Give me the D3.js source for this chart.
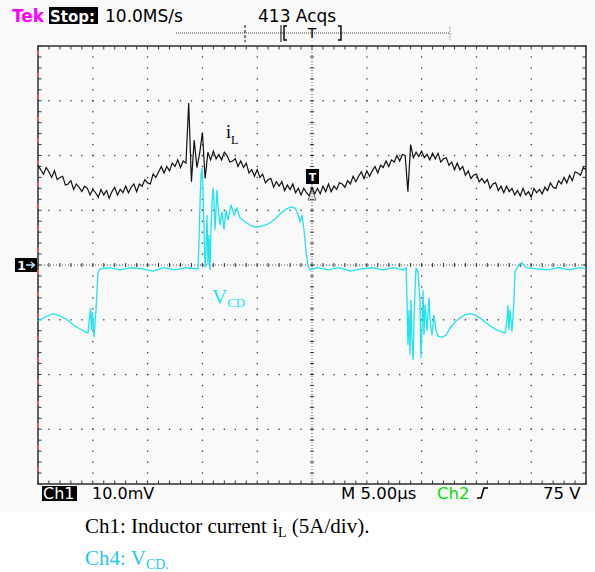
<!DOCTYPE html>
<html>
<head>
<meta charset="utf-8">
<script src="https://cdn.jsdelivr.net/npm/d3@7"></script>
<style>
  body { margin: 0; background: #fff; }
  svg { display: block; }
</style>
</head>
<body>
<script>
// time between samples of the Ch1 record, in microseconds
var sampleStep = 0.25;

// Ch1: inductor current iL in amps (5 A/div), one sample every sampleStep from 0 us
var ch1Amps = [
    9.1, 8.7, 8.3, 8.9, 8.5, 8.0, 8.6, 7.8,
    8.0, 8.1, 7.3, 7.4, 7.7, 6.9, 7.4, 7.1,
    6.7, 7.2, 7.0, 6.4, 6.9, 6.6, 6.2, 6.9,
    6.4, 6.8, 6.1, 6.7, 7.1, 6.4, 6.9, 6.6,
    7.2, 6.6, 7.1, 7.4, 6.7, 7.4, 7.2, 7.8,
    7.5, 7.4, 8.3, 8.0, 8.5, 9.0, 8.4, 9.0,
    8.6, 9.3, 9.0, 9.6, 8.9, 9.5, 9.3, 14.8,
    7.6, 11.4, 8.9, 10.2, 12.1, 7.9, 10.3, 9.6,
    10.4, 9.7, 10.1, 9.6, 10.3, 10.0, 9.4, 9.5,
    9.7, 9.0, 9.5, 8.9, 9.3, 8.4, 8.7, 8.1,
    8.7, 8.0, 8.3, 7.5, 7.8, 7.9, 7.1, 7.6,
    7.2, 7.6, 6.8, 7.3, 6.9, 7.4, 6.6, 7.0,
    6.4, 7.0, 6.6, 6.3, 7.1, 6.5, 7.0, 6.5,
    7.2, 6.7, 7.4, 6.7, 7.2, 6.9, 7.5, 7.4,
    7.1, 7.7, 7.4, 8.1, 7.6, 8.1, 8.5, 7.9,
    8.6, 8.1, 8.6, 9.0, 8.4, 9.1, 8.9, 9.5,
    9.0, 9.6, 9.4, 10.0, 9.5, 10.1, 10.0, 6.7,
    11.0, 9.8, 10.3, 9.9, 10.4, 9.8, 10.1, 9.6,
    10.2, 9.7, 10.2, 9.4, 9.7, 9.8, 9.1, 9.4,
    8.7, 9.3, 8.7, 9.0, 8.2, 8.6, 7.9, 8.2,
    8.3, 7.6, 7.9, 7.5, 7.8, 7.0, 7.4, 7.5,
    6.8, 7.2, 6.6, 7.2, 6.7, 7.0, 6.4, 6.8,
    6.3, 7.0, 6.4, 6.7, 6.2, 7.0, 6.6, 6.9,
    6.5, 7.1, 6.8, 7.5, 7.1, 7.0, 7.7, 7.4,
    8.0, 7.5, 8.2, 7.7, 8.5, 8.4, 8.2, 8.9,
    8.7
];

// Ch4: V_CD, as [time in us, screen divisions from the centre line]
var ch4Samples = [
    [0, -1.02], [0.64, -0.95], [1.37, -0.89], [2.0, -0.93], [2.65, -1.00], [3.28, -1.10],
    [3.83, -1.17], [4.29, -1.22], [4.56, -1.24], [4.70, -0.97], [4.79, -0.79], [4.88, -1.19],
    [4.97, -0.86], [5.11, -1.32], [5.29, -0.82], [5.47, -0.15], [5.66, -0.07],
    [6.5, -0.05], [7.5, -0.09], [8.5, -0.05], [9.5, -0.07], [10.5, -0.11], [11.5, -0.05],
    [12.5, -0.09], [13.5, -0.05], [14.6, -0.07],
    [14.69, 0.46], [14.78, 1.10], [14.87, 1.64], [14.96, 1.77], [15.05, 1.37], [15.15, 0.64],
    [15.24, -0.05], [15.33, 0.27], [15.42, 0.91], [15.51, 0.0], [15.60, 0.55], [15.69, -0.09],
    [15.78, 0.64], [15.88, 1.10], [15.97, 1.41], [16.06, 1.19], [16.15, 0.64], [16.24, 1.00],
    [16.33, 1.37], [16.42, 1.10], [16.61, 0.73], [16.79, 0.97], [16.97, 0.64], [17.15, 1.00],
    [17.34, 0.82], [17.61, 1.10], [17.88, 0.91], [18.16, 1.04], [18.43, 0.86], [18.89, 0.79],
    [19.34, 0.73], [19.89, 0.69], [20.44, 0.71], [20.99, 0.75], [21.53, 0.82], [22.08, 0.93],
    [22.63, 1.02], [23.08, 1.06], [23.45, 1.04], [23.72, 0.93], [23.91, 0.79], [24.09, 0.91],
    [24.27, 0.64], [24.45, 0.27], [24.64, -0.02], [24.82, -0.09],
    [25.5, -0.05], [26.5, -0.09], [27.5, -0.05], [28.5, -0.11], [29.5, -0.07], [30.5, -0.05],
    [31.5, -0.09], [32.5, -0.05], [33.3, -0.09], [33.58, -0.05],
    [33.67, -0.64], [33.76, -1.46], [33.85, -0.82], [33.94, -1.64], [34.03, -0.64], [34.12, -1.37],
    [34.22, -1.74], [34.31, -1.00], [34.40, -0.46], [34.49, -0.05], [34.67, -0.13], [34.85, -0.64],
    [34.94, -1.70], [35.04, -1.19], [35.13, -0.46], [35.22, -1.28], [35.31, -0.73], [35.49, -1.19],
    [35.68, -0.60], [35.77, -1.00], [35.95, -1.28], [36.13, -0.91], [36.31, -1.19], [36.50, -1.30],
    [36.86, -1.32], [37.23, -1.28], [37.59, -1.15], [38.05, -1.04], [38.50, -0.97], [38.96, -0.91],
    [39.42, -0.89], [39.87, -0.91], [40.33, -0.97], [40.78, -1.04], [41.24, -1.11], [41.70, -1.17],
    [42.15, -1.21], [42.61, -1.24], [42.79, -1.00], [42.88, -0.73], [42.97, -1.19], [43.07, -0.82],
    [43.25, -1.22], [43.43, -0.64], [43.52, -0.13], [43.80, -0.02], [44.16, 0.04], [44.53, -0.05],
    [45.5, -0.07], [46.5, -0.09], [47.5, -0.05], [48.5, -0.09], [49.5, -0.05], [50, -0.07]
];

// readouts shown on the scope screen
var headerLabels = { tek: "Tek", state: "Stop:", rate: "10.0MS/s", acqs: "413 Acqs" };
var footerLabels = { ch: "Ch1", scale: "10.0mV", time: "M 5.00\u00b5s", trig: "Ch2", level: "75 V" };

var width = 595,
    height = 572;

var svg = d3.select("body")
    .append("svg")
    .attr("width", width)
    .attr("height", height);

// faint grey of the screen capture
svg.append("rect")
    .attr("width", width)
    .attr("height", 512)
    .attr("fill", "#f9f9f9");

// 10 divisions of 5 us across, 8 divisions down
var x = d3.scaleLinear().domain([0, 50]).range([38, 586]);
var yDiv = d3.scaleLinear().domain([-4, 4]).range([484, 46]);
var yAmp = d3.scaleLinear().domain([-20, 20]).range([484, 46]);

var majX = x.ticks(10),
    minX = x.ticks(50),
    majY = yDiv.ticks(8),
    minY = yDiv.ticks(40);

var grid = svg.append("g").attr("class", "grid");

// dotted major lines (not the frame and not the centre cross)
majX.filter(function(t){ return t > 0 && t < 50 && t !== 25; }).forEach(function(t){
    grid.selectAll(null)
        .data(minY.slice(1, -1))
        .enter().append("rect")
        .attr("x", x(t) - 0.6)
        .attr("y", function(d){ return yDiv(d) - 0.6; })
        .attr("width", 1.3).attr("height", 1.3)
        .attr("fill", "#333");
});
majY.filter(function(t){ return t > -4 && t < 4 && t !== 0; }).forEach(function(t){
    grid.selectAll(null)
        .data(minX.slice(1, -1))
        .enter().append("rect")
        .attr("x", function(d){ return x(d) - 0.6; })
        .attr("y", yDiv(t) - 0.6)
        .attr("width", 1.3).attr("height", 1.3)
        .attr("fill", "#333");
});

// centre cross: fine dotted with a small tick every minor division
grid.append("line")
    .attr("x1", x(0)).attr("x2", x(50))
    .attr("y1", yDiv(0)).attr("y2", yDiv(0))
    .attr("stroke", "#555").attr("stroke-width", 1)
    .attr("stroke-dasharray", "1 2");
grid.append("line")
    .attr("x1", x(25)).attr("x2", x(25))
    .attr("y1", yDiv(4)).attr("y2", yDiv(-4))
    .attr("stroke", "#555").attr("stroke-width", 1)
    .attr("stroke-dasharray", "1 2");
grid.selectAll(".cx")
    .data(minX)
    .enter().append("line")
    .attr("class", "cx")
    .attr("x1", function(d){ return x(d); }).attr("x2", function(d){ return x(d); })
    .attr("y1", yDiv(0) - 2).attr("y2", yDiv(0) + 2)
    .attr("stroke", "#333").attr("stroke-width", 1);
grid.selectAll(".cy")
    .data(minY)
    .enter().append("line")
    .attr("class", "cy")
    .attr("y1", function(d){ return yDiv(d); }).attr("y2", function(d){ return yDiv(d); })
    .attr("x1", x(25) - 2).attr("x2", x(25) + 2)
    .attr("stroke", "#333").attr("stroke-width", 1);

// frame ticks pointing inwards
grid.selectAll(".tt")
    .data(minX)
    .enter().append("line")
    .attr("class", "tt")
    .attr("x1", function(d){ return x(d); }).attr("x2", function(d){ return x(d); })
    .attr("y1", yDiv(4)).attr("y2", yDiv(4) + 3.5)
    .attr("stroke", "#333");
grid.selectAll(".tb")
    .data(minX)
    .enter().append("line")
    .attr("class", "tb")
    .attr("x1", function(d){ return x(d); }).attr("x2", function(d){ return x(d); })
    .attr("y1", yDiv(-4)).attr("y2", yDiv(-4) - 3.5)
    .attr("stroke", "#333");
grid.selectAll(".tl")
    .data(minY)
    .enter().append("line")
    .attr("class", "tl")
    .attr("y1", function(d){ return yDiv(d); }).attr("y2", function(d){ return yDiv(d); })
    .attr("x1", x(0)).attr("x2", x(0) + 3.5)
    .attr("stroke", "#333");
grid.selectAll(".tr")
    .data(minY)
    .enter().append("line")
    .attr("class", "tr")
    .attr("y1", function(d){ return yDiv(d); }).attr("y2", function(d){ return yDiv(d); })
    .attr("x1", x(50)).attr("x2", x(50) - 3.5)
    .attr("stroke", "#333");

grid.append("rect")
    .attr("x", x(0)).attr("y", yDiv(4))
    .attr("width", x(50) - x(0)).attr("height", yDiv(-4) - yDiv(4))
    .attr("fill", "none")
    .attr("stroke", "#3a3a3a")
    .attr("stroke-width", 1.6);

// red flecks along the left edge of the capture
grid.selectAll(".red")
    .data(minY.filter(function(d, i){ return i % 2 === 1; }))
    .enter().append("line")
    .attr("class", "red")
    .attr("x1", x(0)).attr("x2", x(0))
    .attr("y1", function(d){ return yDiv(d) - 2; })
    .attr("y2", function(d){ return yDiv(d) - 6; })
    .attr("stroke", "#ff5050").attr("stroke-width", 1.8);

// traces
var line4 = d3.line()
    .x(function(d){ return x(d[0]); })
    .y(function(d){ return yDiv(d[1]); });
svg.append("path")
    .datum(ch4Samples)
    .attr("d", line4)
    .attr("fill", "none")
    .attr("stroke", "#1ee3f0")
    .attr("stroke-width", 1.3);

var line1 = d3.line()
    .x(function(d, i){ return x(i * sampleStep); })
    .y(function(d){ return yAmp(d); });
svg.append("path")
    .datum(ch1Amps)
    .attr("d", line1)
    .attr("fill", "none")
    .attr("stroke", "#111")
    .attr("stroke-width", 1.2);

// trace labels
var il = svg.append("text")
    .attr("x", 226).attr("y", 138)
    .attr("font-family", "Liberation Serif")
    .attr("font-size", 18)
    .attr("fill", "#000");
il.append("tspan").text("i");
il.append("tspan").attr("font-size", 12).attr("dy", 6).text("L");

var vcd = svg.append("text")
    .attr("x", 212).attr("y", 304)
    .attr("font-family", "Liberation Serif")
    .attr("font-size", 21)
    .attr("fill", "#1ee3f0");
vcd.append("tspan").text("V");
vcd.append("tspan").attr("font-size", 13).attr("dy", 3).text("CD");

// channel 1 ground marker
svg.append("rect")
    .attr("x", 15).attr("y", yDiv(0) - 7)
    .attr("width", 22).attr("height", 14)
    .attr("fill", "#000");
svg.append("text")
    .attr("x", 17).attr("y", yDiv(0) + 5)
    .attr("font-family", "DejaVu Sans").attr("font-weight", "bold")
    .attr("font-size", 13).attr("fill", "#e6f6ff")
    .text("1");
svg.append("path")
    .attr("d", "M26," + yDiv(0) + "H34M31," + (yDiv(0) - 3) + "L34.5," + yDiv(0) + "L31," + (yDiv(0) + 3))
    .attr("fill", "none").attr("stroke", "#bfe6ff").attr("stroke-width", 1.4);

// trigger position marker on the screen
svg.append("rect")
    .attr("x", x(25) - 6).attr("y", 169)
    .attr("width", 13).attr("height", 15)
    .attr("fill", "#000");
svg.append("text")
    .attr("x", x(25) + 0.5).attr("y", 181)
    .attr("text-anchor", "middle")
    .attr("font-family", "DejaVu Sans").attr("font-weight", "bold")
    .attr("font-size", 11).attr("fill", "#fff")
    .text("T");
svg.append("path")
    .attr("d", "M" + (x(25) - 4) + ",200L" + x(25) + ",190L" + (x(25) + 4) + ",200Z")
    .attr("fill", "none").attr("stroke", "#666").attr("stroke-width", 1);

// header
var scopeFont = "DejaVu Sans";
svg.append("text")
    .attr("x", 12).attr("y", 22)
    .attr("font-family", scopeFont).attr("font-weight", "bold")
    .attr("font-size", 17).attr("fill", "#ff00ff")
    .text(headerLabels.tek);
svg.append("rect")
    .attr("x", 49).attr("y", 7)
    .attr("width", 49).attr("height", 17)
    .attr("fill", "#000");
svg.append("text")
    .attr("x", 50).attr("y", 22)
    .attr("font-family", scopeFont).attr("font-weight", "bold")
    .attr("font-size", 15).attr("fill", "#fff")
    .text(headerLabels.state);
svg.append("text")
    .attr("x", 105).attr("y", 22)
    .attr("font-family", scopeFont)
    .attr("font-size", 17).attr("fill", "#000")
    .text(headerLabels.rate);
svg.append("text")
    .attr("x", 258).attr("y", 22)
    .attr("font-family", scopeFont)
    .attr("font-size", 17).attr("fill", "#000")
    .text(headerLabels.acqs);

// record view bar
var bar = svg.append("g");
bar.append("line")
    .attr("x1", 176).attr("x2", 450).attr("y1", 33).attr("y2", 33)
    .attr("stroke", "#444").attr("stroke-dasharray", "1 1");
bar.append("line")
    .attr("x1", 245).attr("x2", 245).attr("y1", 25).attr("y2", 42)
    .attr("stroke", "#000").attr("stroke-dasharray", "3 2");
bar.append("line")
    .attr("x1", 281).attr("x2", 281).attr("y1", 25).attr("y2", 42)
    .attr("stroke", "#000");
bar.append("path")
    .attr("d", "M287,26H284V40H287M338,26H341V40H338")
    .attr("fill", "none").attr("stroke", "#000").attr("stroke-width", 1.4);
bar.append("text")
    .attr("x", 312).attr("y", 38)
    .attr("text-anchor", "middle")
    .attr("font-family", scopeFont).attr("font-size", 14)
    .text("T");
bar.append("line")
    .attr("x1", 450).attr("x2", 450).attr("y1", 27).attr("y2", 40)
    .attr("stroke", "#999").attr("stroke-dasharray", "2 1");

// footer readouts
svg.append("rect")
    .attr("x", 42).attr("y", 486)
    .attr("width", 35).attr("height", 15)
    .attr("fill", "#000");
svg.append("text")
    .attr("x", 43).attr("y", 499)
    .attr("font-family", scopeFont).attr("font-size", 16).attr("fill", "#fff")
    .text(footerLabels.ch);
svg.append("text")
    .attr("x", 92).attr("y", 499)
    .attr("font-family", scopeFont).attr("font-size", 16).attr("fill", "#000")
    .text(footerLabels.scale);
svg.append("text")
    .attr("x", 341).attr("y", 499)
    .attr("font-family", scopeFont).attr("font-size", 16.5).attr("fill", "#000")
    .text(footerLabels.time);
svg.append("text")
    .attr("x", 437).attr("y", 499)
    .attr("font-family", scopeFont).attr("font-size", 16.5).attr("fill", "#00e000")
    .text(footerLabels.trig);
svg.append("path")
    .attr("d", "M477,498H481L484,488H488")
    .attr("fill", "none").attr("stroke", "#000").attr("stroke-width", 1.6);
svg.append("text")
    .attr("x", 543).attr("y", 499)
    .attr("font-family", scopeFont).attr("font-size", 16.5).attr("fill", "#000")
    .text(footerLabels.level);

// caption under the capture
var cap1 = svg.append("text")
    .attr("x", 85).attr("y", 533)
    .attr("font-family", "Liberation Serif")
    .attr("font-size", 21)
    .attr("fill", "#000");
cap1.append("tspan").text("Ch1: Inductor current i");
cap1.append("tspan").attr("font-size", 14).attr("dy", 4).text("L");
cap1.append("tspan").attr("dy", -4).text(" (5A/div).");

var cap2 = svg.append("text")
    .attr("x", 85).attr("y", 565)
    .attr("font-family", "Liberation Serif")
    .attr("font-size", 21)
    .attr("fill", "#1ec8f0");
cap2.append("tspan").text("Ch4: V");
cap2.append("tspan").attr("font-size", 14).attr("dy", 4).text("CD");
cap2.append("tspan").attr("font-size", 14).text(".");
</script>
</body>
</html>
